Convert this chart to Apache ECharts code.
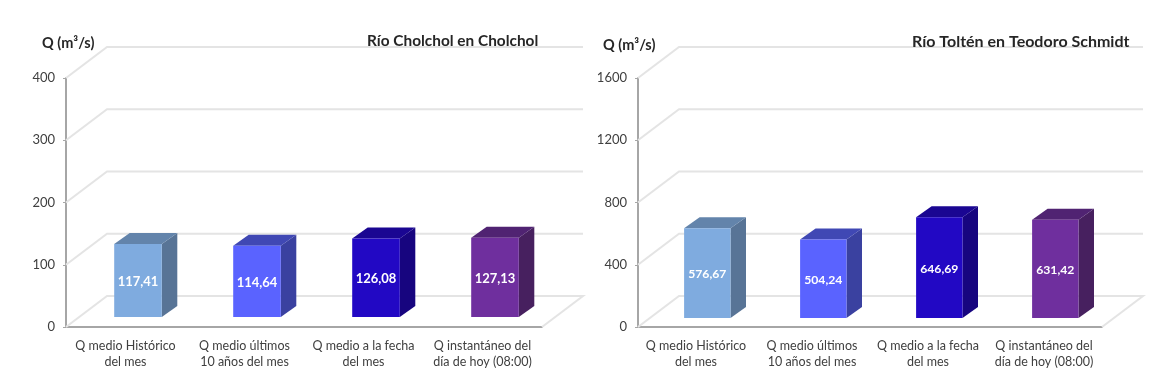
<!DOCTYPE html>
<html>
<head>
<meta charset="utf-8">
<style>
  html, body { margin: 0; padding: 0; background: #fff; }
  #chart { width: 1167px; height: 380px; }
</style>
<script src="https://cdn.jsdelivr.net/npm/echarts@6/dist/echarts.min.js"></script>
</head>
<body>
<div id="chart"></div>
<script>
var categories = [
  'Q medio Histórico\ndel mes',
  'Q medio últimos\n10 años del mes',
  'Q medio a la fecha\ndel mes',
  'Q instantáneo del\ndía de hoy (08:00)'
]
var cholcholValues = [117.41, 114.64, 126.08, 127.13]
var toltenValues = [576.67, 504.24, 646.69, 631.42]
var cholcholTicks = [0, 100, 200, 300, 400]
var toltenTicks = [0, 400, 800, 1200, 1600]

// front, side, top of each bar
var barColors = [
  ['#7fabdf', '#587496', '#6384ab'],
  ['#5a63ff', '#3a41a0', '#4048b4'],
  ['#2208c4', '#17057f', '#1a0692'],
  ['#6f2f9e', '#47205f', '#502372']
]
var textColor = '#404040'
var axisColor = '#a6a6a6'
var fontName = 'Lato'

// la profundidad del grafico 3D, en pixeles
var wallDx = 41
var wallDy = 31
var barDx = 15.5
var barDy = 11

function renderWall (params, api) {
  var rect = params.coordSys
  var y = api.coord([0, api.value(1)])[1]
  var x0 = rect.x
  var x1 = rect.x + rect.width
  var points = [[x0, y], [x0 + wallDx, y - wallDy], [x1 + wallDx, y - wallDy]]
  if (api.value(1) === 0) {
    points.push([x1, y])
  }
  return {
    type: 'polyline',
    shape: { points: points },
    style: { fill: 'none', stroke: '#e4e4e4', lineWidth: 2 }
  }
}

function makeRenderBar (offsetX, offsetY, labelSize) {
  return function (params, api) {
    var i = api.value(0)
    var value = api.value(1)
    var band = api.size([1, 0])[0]
    var w = band * 0.4
    var top = api.coord([i, value])
    var base = api.coord([i, 0])
    var left = top[0] + offsetX - w / 2
    var right = left + w
    var yTop = top[1] - offsetY
    var yBase = base[1] - offsetY
    var colors = barColors[i]
    return {
      type: 'group',
      children: [
        {
          type: 'polygon',
          shape: { points: [[right, yTop], [right + barDx, yTop - barDy], [right + barDx, yBase - barDy], [right, yBase]] },
          style: { fill: colors[1] }
        },
        {
          type: 'polygon',
          shape: { points: [[left, yTop], [left + barDx, yTop - barDy], [right + barDx, yTop - barDy], [right, yTop]] },
          style: { fill: colors[2] }
        },
        {
          type: 'rect',
          shape: { x: left, y: yTop, width: w, height: yBase - yTop },
          style: { fill: colors[0] }
        },
        {
          type: 'text',
          style: {
            x: (left + right) / 2,
            y: (yTop + yBase) / 2 + 1,
            text: value.toFixed(2).replace('.', ','),
            fill: '#fff',
            font: 'bold ' + labelSize + 'px ' + fontName,
            align: 'center',
            verticalAlign: 'middle'
          }
        }
      ]
    }
  }
}

function makeXAxis (gridIndex) {
  return {
    type: 'category',
    gridIndex: gridIndex,
    data: categories,
    axisLine: { lineStyle: { color: axisColor, width: 2 } },
    axisTick: { length: 4, lineStyle: { color: axisColor } },
    axisLabel: { interval: 0, margin: 11, color: textColor, fontFamily: fontName, fontSize: 12.5, lineHeight: 16 }
  }
}

function makeYAxis (gridIndex, ticks) {
  return {
    type: 'value',
    gridIndex: gridIndex,
    min: ticks[0],
    max: ticks[ticks.length - 1],
    interval: ticks[1],
    splitLine: { show: false },
    axisLine: { show: true, lineStyle: { color: axisColor, width: 2 } },
    axisTick: { show: true, length: 3, lineStyle: { color: axisColor } },
    axisLabel: {
      margin: 11,
      color: textColor,
      fontFamily: fontName,
      fontSize: 13,
      formatter: function (v) { return String(v) }
    }
  }
}

function makeSeries (gridIndex, ticks, values, renderBar) {
  return [
    {
      type: 'custom',
      xAxisIndex: gridIndex,
      yAxisIndex: gridIndex,
      z: 1,
      silent: true,
      renderItem: renderWall,
      data: ticks.map(function (t) { return [0, t] })
    },
    {
      type: 'custom',
      xAxisIndex: gridIndex,
      yAxisIndex: gridIndex,
      z: 3,
      renderItem: renderBar,
      encode: { x: 0, y: 1 },
      data: values.map(function (v, i) { return [i, v] })
    }
  ]
}

function makeTitle (text, left, top, size) {
  return {
    text: text,
    left: left,
    top: top,
    padding: 0,
    textStyle: { color: '#262626', fontFamily: fontName, fontSize: size, fontWeight: 'bold' }
  }
}

var myChart = echarts.init(document.getElementById('chart'))
myChart.setOption({
  animation: false,
  backgroundColor: '#fff',
  title: [
    makeTitle('Q (m³/s)', 42, 36, 14.5),
    makeTitle('Río Cholchol en Cholchol', 367, 34, 15.4),
    makeTitle('Q (m³/s)', 603, 38, 14.5),
    makeTitle('Río Toltén en Teodoro Schmidt', 912, 34, 16)
  ],
  grid: [
    { left: 66, top: 78, width: 476, height: 249 },
    { left: 638, top: 78, width: 464, height: 249 }
  ],
  xAxis: [makeXAxis(0), makeXAxis(1)],
  yAxis: [makeYAxis(0, cholcholTicks), makeYAxis(1, toltenTicks)],
  series: makeSeries(0, cholcholTicks, cholcholValues, makeRenderBar(12.5, 10, 13))
    .concat(makeSeries(1, toltenTicks, toltenValues, makeRenderBar(11.3, 9, 12.2)))
})
</script>
</body>
</html>
